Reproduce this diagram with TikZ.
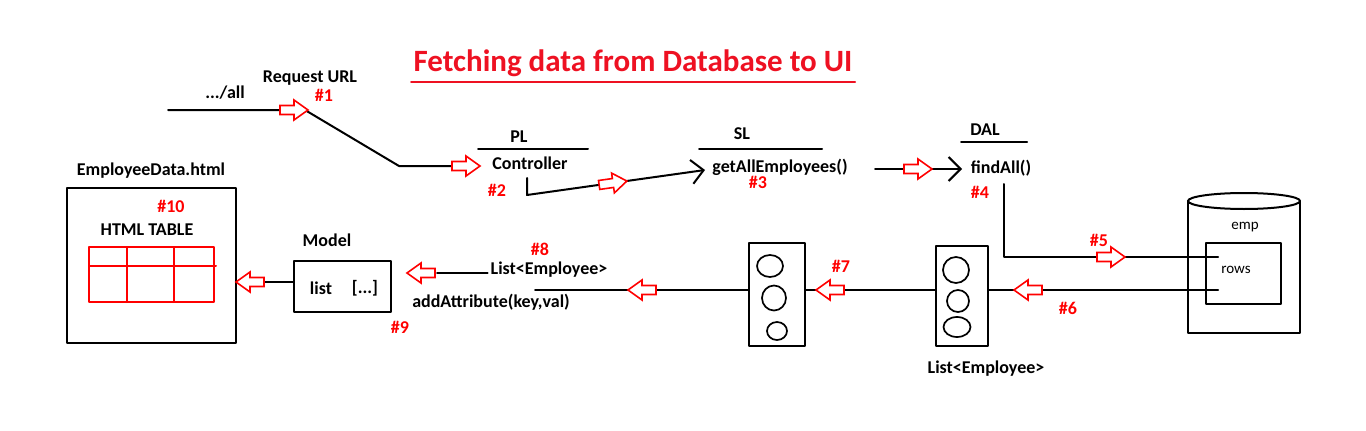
\documentclass[tikz,border=0pt]{standalone}
\usepackage{fontspec}
\setmainfont{Carlito}
\usetikzlibrary{arrows.meta}
\definecolor{FlowRed}{HTML}{FF0000}
\definecolor{TitleRed}{HTML}{EE1122}

\tikzset{
  lbl/.style={font=\bfseries\fontsize{18}{20}\selectfont,inner sep=0pt},
  smalllbl/.style={font=\fontsize{15}{17}\selectfont,inner sep=0pt},
  steplbl/.style={lbl,text=FlowRed},
  titlelbl/.style={font=\bfseries\fontsize{31}{34}\selectfont,text=TitleRed,inner sep=0pt},
  plainbox/.style={draw,line width=2pt,inner sep=0pt},
  barb/.style={-{Straight Barb[length=12pt,width=24pt]}},
  pics/flowarrow/.style={code={
    \draw[FlowRed,fill=white,line width=1.6pt,line join=miter]
      (-14,-4.5) -- (0,-4.5) -- (0,-10) -- (14,0) -- (0,10) -- (0,4.5) -- (-14,4.5) -- cycle;}}
}

\begin{document}
\begin{tikzpicture}[x=1pt,y=-1pt,line width=2pt,line cap=round,line join=round]
  \useasboundingbox (0,0) rectangle (1366,431);

  % title
  \node[titlelbl] (title) at (633,63) {Fetching data from Database to UI};
  \draw[TitleRed] (411,82) -- (855,82);

  % request
  \node[lbl] (url) at (310,78) {Request URL};
  \node[lbl] (all) at (225,93) {.../all};
  \node[steplbl] (s1) at (324,95) {\#1};
  \coordinate (urlstart) at (168,110);
  \coordinate (urlbend) at (305,110);
  \coordinate (urlknee) at (399,166);
  \coordinate (plin) at (477,166);
  \draw (urlstart) -- (urlbend) -- (urlknee) -- (plin);

  % presentation layer
  \node[lbl] (pl) at (519,137) {PL};
  \draw (478,149) -- (588,149);
  \node[lbl] (ctrl) at (530,163) {Controller};
  \node[steplbl] (s2) at (497,190) {\#2};
  \coordinate (ctrltop) at (527,178);
  \coordinate (ctrlbot) at (527,195);
  \coordinate (slin) at (705,170);
  \draw[barb] (ctrltop) -- (ctrlbot) -- (slin);

  % service layer
  \node[lbl] (sl) at (742,134) {SL};
  \draw (699,149) -- (822,149);
  \node[lbl] (getall) at (780,167) {getAllEmployees()};
  \node[steplbl] (s3) at (758,182) {\#3};
  \coordinate (slout) at (875,169);
  \coordinate (dalin) at (962,169);
  \draw[barb] (slout) -- (dalin);

  % data access layer
  \node[lbl] (dal) at (985,130) {DAL};
  \draw (961,142) -- (1027,142);
  \node[lbl] (findall) at (1001,168) {findAll()};
  \node[steplbl] (s4) at (980,192) {\#4};
  \coordinate (daltop) at (1004,184);
  \coordinate (dalknee) at (1004,257);
  \coordinate (rowsin) at (1218,257);
  \coordinate (rowsout) at (1218,290);
  \draw (daltop) -- (dalknee) -- (rowsin);
  \node[steplbl] (s5) at (1099,240) {\#5};
  \node[steplbl] (s6) at (1068,308) {\#6};

  % database
  \draw (1188,201) -- (1188,333) -- (1300,333) -- (1300,201);
  \draw (1244,201) ellipse [x radius=56,y radius=8];
  \node[smalllbl] (emp) at (1245,227) {emp};
  \node[plainbox,minimum width=75pt,minimum height=61pt] (rows) at (1243.5,273.5) {};
  \node[smalllbl] (rowstext) at (1236,270) {rows};

  % result lists
  \node[plainbox,minimum width=52pt,minimum height=100pt] (rightlist) at (962,296) {};
  \draw[line width=1.7pt] (956,270) ellipse [x radius=13,y radius=13]
    (958,301) ellipse [x radius=11,y radius=11]
    (957,327) ellipse [x radius=13.5,y radius=10];
  \node[lbl] (listbottom) at (986,369) {List<Employee>};
  \node[plainbox,minimum width=56pt,minimum height=103pt] (leftlist) at (777,294.5) {};
  \draw[line width=1.7pt] (770,266) ellipse [x radius=13,y radius=11]
    (774,298) ellipse [x radius=12,y radius=12.5]
    (777,331) ellipse [x radius=10,y radius=9];
  \node[steplbl] (s7) at (841,266) {\#7};
  \draw (rowsout) -- (rightlist.east |- rowsout);
  \draw (rightlist.west |- rowsout) -- (leftlist.east |- rowsout);
  \coordinate (attrend) at (535,290);
  \draw (leftlist.west |- rowsout) -- (attrend);

  % model
  \node[lbl] (listemp) at (549,270) {List<Employee>};
  \node[steplbl] (s8) at (540,249) {\#8};
  \node[lbl] (addattr) at (491,302) {addAttribute(key,val)};
  \node[steplbl] (s9) at (400,327) {\#9};
  \coordinate (modelin) at (437,273);
  \draw ([xshift=-2pt]listemp.west |- modelin) -- (modelin);
  \node[lbl] (modeltitle) at (327,240) {Model};
  \node[plainbox,minimum width=97pt,minimum height=51pt] (model) at (342.5,286.5) {};
  \node[lbl] (listtext) at (321,288) {list};
  \node[lbl] (dots) at (365,288) {[...]};

  % html page
  \node[lbl] (pagetitle) at (151,171) {EmployeeData.html};
  \node[plainbox,minimum width=169pt,minimum height=155pt] (page) at (151.5,265.5) {};
  \node[steplbl] (s10) at (171,206) {\#10};
  \node[lbl] (tabletext) at (147,230) {HTML TABLE};
  \draw[FlowRed] (89,247) rectangle (214,302);
  \draw[FlowRed] (89,266) -- (216,266) (127,247) -- (127,302) (174,247) -- (174,302);
  \coordinate (modelrow) at (294,282);
  \draw (model.west |- modelrow) -- (page.east |- modelrow);

  % flow arrows
  \pic at (294,110) {flowarrow};
  \pic at (466,166) {flowarrow};
  \pic[rotate=8] at (613,183) {flowarrow};
  \pic at (918,169) {flowarrow};
  \pic at (1111,257) {flowarrow};
  \pic[rotate=180] at (1028,290) {flowarrow};
  \pic[rotate=180] at (830,290) {flowarrow};
  \pic[rotate=180] at (642,290) {flowarrow};
  \pic[rotate=180] at (421,273) {flowarrow};
  \pic[rotate=180] at (250,282) {flowarrow};
\end{tikzpicture}
\end{document}
